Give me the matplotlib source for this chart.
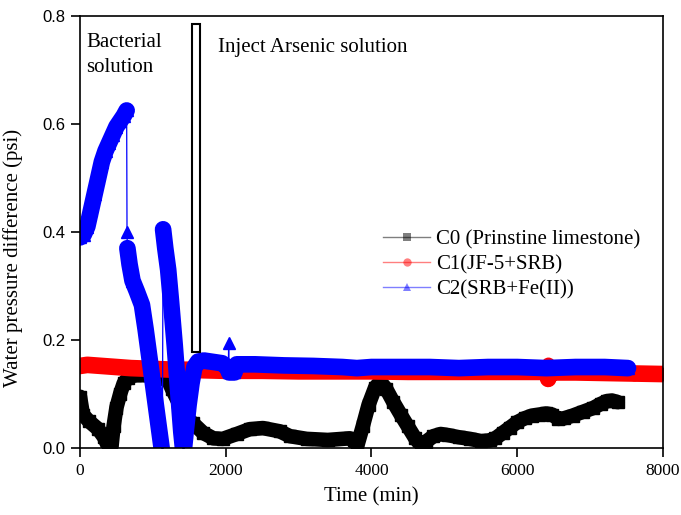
import matplotlib
matplotlib.use("Agg")
import matplotlib.pyplot as plt
import matplotlib.patches as patches
from matplotlib.lines import Line2D
import numpy as np

plt.rcParams['font.family'] = 'Liberation Serif'

# C0 (Prinstine limestone)
c0_t = [0, 40, 120, 250, 330, 380, 410, 430, 460, 500, 550, 600, 660, 750, 850, 950,
        1050, 1150, 1200, 1260, 1350, 1420, 1480, 1550, 1690, 1830, 1960, 2150, 2330,
        2510, 2740, 2880, 3110, 3400, 3700, 3760, 3800, 3880, 3960, 4050, 4120, 4200,
        4300, 4400, 4500, 4600, 4680, 4750, 4850, 4950, 5050, 5200, 5350, 5500, 5620,
        5700, 5800, 5900, 6000, 6100, 6200, 6300, 6400, 6480, 6560, 6640, 6760, 6900,
        7040, 7150, 7230, 7300, 7380]
c0_p = [0.095, 0.062, 0.05, 0.035, 0.02, 0.005, -0.005, 0.0, 0.04, 0.075, 0.10, 0.12,
        0.13, 0.135, 0.135, 0.135, 0.135, 0.133, 0.128, 0.11, 0.085, 0.065, 0.054, 0.046,
        0.028, 0.018, 0.017, 0.026, 0.035, 0.037, 0.031, 0.022, 0.017, 0.015, 0.018,
        0.015, 0.002, 0.04, 0.08, 0.112, 0.123, 0.11, 0.085, 0.062, 0.04, 0.018, 0.005,
        0.012, 0.022, 0.026, 0.024, 0.02, 0.017, 0.013, 0.014, 0.018, 0.028, 0.038,
        0.048, 0.055, 0.06, 0.062, 0.064, 0.062, 0.054, 0.055, 0.06, 0.067, 0.074,
        0.082, 0.087, 0.088, 0.085]

# C1 (JF-5+SRB)
c1_t = [0, 100, 300, 500, 700, 900, 1100, 1300, 1500, 1700, 2000, 2500, 3000, 3500,
        4000, 4500, 5000, 5500, 6000, 6410, 6420, 6425, 6430, 6440, 6800, 7200, 7600, 8000]
c1_p = [0.152, 0.154, 0.152, 0.15, 0.148, 0.147, 0.146, 0.145, 0.145, 0.144, 0.143,
        0.143, 0.142, 0.142, 0.142, 0.141, 0.141, 0.141, 0.141, 0.141, 0.156, 0.128,
        0.14, 0.14, 0.14, 0.139, 0.138, 0.137]

# C2 (SRB+Fe(II))
c2_t = [0, 50, 100, 150, 200, 250, 300, 350, 400, 450, 500, 550, 600, 640,
        645, 650, 680, 720, 780, 850, 900, 950, 1000, 1050, 1100, 1130,
        1140, 1170, 1210, 1250, 1300, 1350, 1390, 1420, 1450, 1490, 1530, 1570, 1620,
        1700, 1800, 1950, 2000, 2035, 2040, 2045, 2120, 2150, 2400, 2800, 3200, 3600,
        3800, 4000, 4400, 4800, 5200, 5600, 6000, 6400, 6800, 7200, 7520]
c2_p = [0.39, 0.395, 0.41, 0.44, 0.47, 0.50, 0.53, 0.55, 0.565, 0.58, 0.595, 0.605,
        0.615, 0.625, 0.40, 0.37, 0.34, 0.31, 0.29, 0.265, 0.22, 0.17, 0.12, 0.07,
        0.02, -0.01, 0.405, 0.37, 0.33, 0.27, 0.19, 0.10, 0.03, -0.01, 0.03, 0.08,
        0.12, 0.15, 0.16, 0.162, 0.16, 0.157, 0.152, 0.145, 0.195, 0.14, 0.14, 0.155,
        0.155, 0.153, 0.152, 0.15, 0.148, 0.15, 0.15, 0.15, 0.148, 0.15, 0.15, 0.148,
        0.15, 0.15, 0.148]

series = [
    (c0_t, c0_p, 'black', 's', 'C0 (Prinstine limestone)', 10.5),
    (c1_t, c1_p, 'red', 'o', 'C1(JF-5+SRB)', 12),
    (c2_t, c2_p, 'blue', '^', 'C2(SRB+Fe(II))', 12),
]

fig = plt.figure(figsize=(6.81, 5.15), dpi=100)
ax = fig.add_axes([0.1175, 0.130, 0.856, 0.839])

for t, p, col, mk, lab, band in series:
    t = np.asarray(t, dtype=float)
    p = np.asarray(p, dtype=float)
    # thin connecting line + markers at every reading
    ax.plot(t, p, color=col, lw=0.9, marker=mk, ms=9, mec=col, mfc=col)
    # thick band through the continuous stretches, broken at sudden jumps
    jump = (np.diff(t) <= 10) & (np.abs(np.diff(p)) > 0.015)
    tt, pp = [t[0]], [p[0]]
    for i in range(1, len(t)):
        if jump[i - 1]:
            tt.append(np.nan)
            pp.append(np.nan)
        tt.append(t[i])
        pp.append(p[i])
    ax.plot(tt, pp, color=col, lw=band, solid_capstyle='round',
            solid_joinstyle='round')

# injection window marker
ax.add_patch(patches.Rectangle((1540, 0.178), 110, 0.607, facecolor='white',
                               edgecolor='black', lw=1.5, zorder=5))

ax.text(0.0103, 0.928, 'Bacterial', transform=ax.transAxes, fontsize=15)
ax.text(0.0103, 0.870, 'solution', transform=ax.transAxes, fontsize=15)
ax.text(0.237, 0.917, 'Inject Arsenic solution', transform=ax.transAxes, fontsize=15)

ax.set_xlim(0, 8000)
ax.set_ylim(0, 0.8)
ax.set_xticks([0, 2000, 4000, 6000, 8000])
ax.set_yticks([0.0, 0.2, 0.4, 0.6, 0.8])
ax.set_yticklabels(['0.0', '0.2', '0.4', '0.6', '0.8'], family='Liberation Sans')
ax.tick_params(direction='out', length=6.5, width=1.2, labelsize=12.5, pad=4)
ax.tick_params(axis='y', labelsize=12)
for s in ax.spines.values():
    s.set_linewidth(1.2)

ax.set_xlabel('Time (min)', fontsize=15)
ax.set_ylabel('Water pressure difference (psi)', fontsize=15)
ax.xaxis.set_label_coords(0.5, -0.09)
ax.yaxis.set_label_coords(-0.098, 0.44)

handles = [Line2D([], [], color=col, lw=1, alpha=0.5, marker=mk, ms=6,
                  mec=col, mfc=col, markeredgewidth=0)
           for _, _, col, mk, _, _ in series]
for h, s in zip(handles, series):
    h.set_markerfacecolor(s[2])
fig.legend(handles, [s[4] for s in series], loc='upper left',
           bbox_to_anchor=(0.563, 0.553), frameon=False, fontsize=15,
           handlelength=2.25, handletextpad=0.29, labelspacing=0.25,
           borderpad=0, borderaxespad=0)

fig.savefig('out.png', dpi=100)
